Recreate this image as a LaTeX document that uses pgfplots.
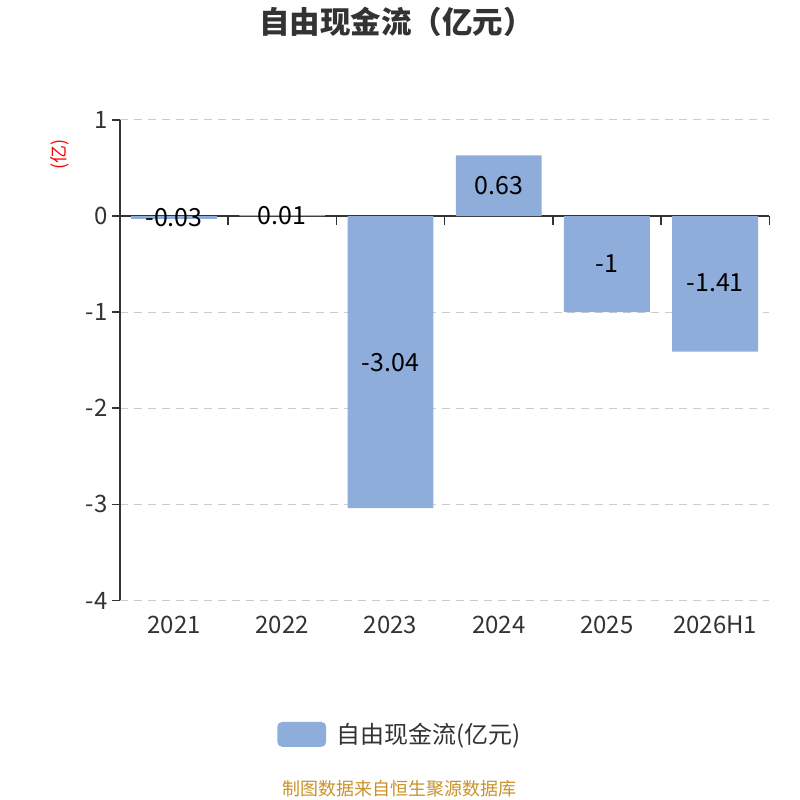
\documentclass[border=0pt]{standalone}
\usepackage{pgfplots}
\pgfplotsset{compat=1.18}
\usepackage{fontspec}
\setmainfont{Noto Sans CJK SC}
\definecolor{barc}{RGB}{142,173,219}
\definecolor{axc}{RGB}{51,51,51}
\definecolor{gridc}{RGB}{204,204,204}
\definecolor{srcc}{RGB}{200,146,42}
\begin{document}
\begin{tikzpicture}[x=1pt,y=1pt]
\path (0,0) rectangle (800,-800);
\node[font=\fontsize{30.5}{34}\selectfont\bfseries, text=axc] at (397,-22) {自由现金流（亿元）};
\node[font=\fontsize{18}{20}\selectfont, text=red, rotate=90] at (60,-155) {(亿)};
\node[font=\fontsize{18}{20}\selectfont, text=srcc] at (400,-789) {制图数据来自恒生聚源数据库};
\begin{axis}[
  at={(120pt,-601pt)}, anchor=south west,
  scale only axis, width=650pt, height=481pt,
  xmin=-0.5, xmax=5.5, ymin=-4, ymax=1,
  axis x line*=bottom, axis y line*=left,
  x axis line style={draw=none},
  y axis line style={draw=axc, line width=1.5pt},
  xtick={0,1,2,3,4,5},
  xticklabels={2021,2022,2023,2024,2025,2026H1},
  xtick style={draw=none},
  ytick={-4,-3,-2,-1,0,1},
  ytick style={draw=axc, line width=1.5pt},
  tick align=outside, major tick length=8pt,
  ymajorgrids,
  grid style={gridc, line width=1pt, dash pattern=on 8pt off 6pt},
  extra y ticks={0}, extra y tick labels={},
  extra y tick style={grid=major, major grid style={solid, axc, line width=1.5pt}, tick style={draw=none}},
  /pgf/number format/assume math mode=true,
  ticklabel style={font=\fontsize{24}{27}\selectfont, text=axc},
  xticklabel style={yshift=-4pt},
  yticklabel style={xshift=-1pt},
  legend style={at={(rel axis cs:0.431,-0.2786)}, anchor=center, draw=none, fill=none,
    font=\fontsize{24}{27}\selectfont, text=axc},
  legend image code/.code={\fill[barc, rounded corners=5pt] (0pt,-12.5pt) rectangle (49pt,12.5pt);},
  clip=false,
]
\addplot[ybar, bar width=86pt, fill=barc, draw=none] coordinates {
 (0,-0.03) (1,0.01) (2,-3.04) (3,0.63) (4,-1) (5,-1.41)};
\addlegendentry{\hspace{8pt}自由现金流(亿元)}
\addplot[forget plot, draw=none, mark=none, nodes near coords, point meta=explicit symbolic,
  every node near coord/.style={anchor=center, font=\fontsize{25}{28}\selectfont, text=black}]
  coordinates {
 (0,-0.015) [-0.03] (1,0.005) [0.01] (2,-1.52) [-3.04] (3,0.315) [0.63] (4,-0.5) [-1] (5,-0.69) [-1.41]};
\foreach \k in {0.5,1.5,2.5,3.5,4.5,5.5} {
  \edef\tmp{\noexpand\draw[axc, line width=1.5pt] (axis cs:\k,0) -- ([yshift=-9pt]axis cs:\k,0);}\tmp
}
\end{axis}
\end{tikzpicture}
\end{document}
